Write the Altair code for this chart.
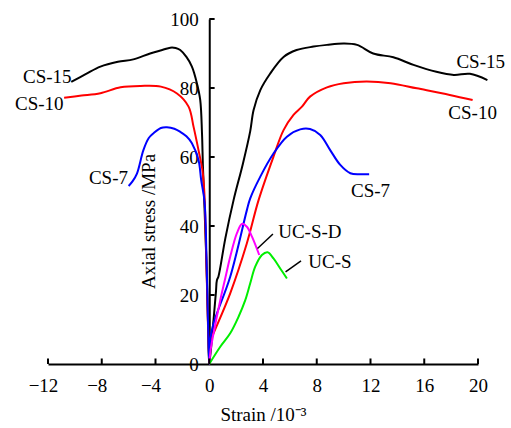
import altair as alt
import pandas as pd

# ---- data ----
x_ticks = [-12, -8, -4, 0, 4, 8, 12, 16, 20]
y_ticks = [0, 20, 40, 60, 80, 100]

cs15_strain = [-10.27, -9.2, -8.1, -6.8, -5.65, -4.4, -3.5, -2.9, -2.5, -2.16, -1.7, -1.29, -0.92, -0.67, -0.54, -0.47, -0.35, -0.2, -0.08, 0.0,
               0.3, 0.5, 0.57, 0.68, 1.2, 1.81, 2.5, 3.05, 3.3, 3.8, 4.5, 5.53, 6.5, 7.76, 8.76, 10.0, 11.0, 12.2, 13.7, 15.2, 16.9, 18.2, 19.4, 20.7]
cs15_stress = [81.8, 84.0, 86.2, 87.6, 88.3, 90.0, 91.0, 91.7, 91.6, 91.0, 89.0, 86.2, 81.4, 76.5, 66.9, 57.2, 45.0, 28.0, 10.0, 0.0,
               12.0, 21.0, 24.3, 25.3, 36.5, 47.5, 58.0, 67.5, 73.6, 79.4, 84.0, 89.0, 91.0, 92.0, 92.5, 92.9, 92.5, 90.0, 88.9, 86.7, 84.7, 83.8, 84.1, 82.3]

cs10_strain = [-10.8, -9.5, -8.1, -6.6, -5.1, -3.6, -2.4, -1.54, -1.17, -0.8, -0.5, -0.37, -0.25, -0.12, 0.0,
               0.02, 0.32, 1.56, 2.8, 3.67, 4.78, 5.53, 6.27, 6.9, 7.5, 8.76, 10.0, 11.7, 13.5, 15.45, 17.9, 19.6]
cs10_stress = [77.2, 77.8, 78.5, 80.2, 80.6, 80.4, 78.4, 74.6, 68.8, 62.0, 56.0, 50.0, 35.0, 15.0, 0.0,
               6.0, 8.9, 20.5, 35.0, 47.5, 60.1, 67.8, 72.2, 74.6, 77.5, 80.2, 81.4, 81.9, 81.4, 79.9, 78.0, 76.5]

cs7_strain = [-6.0, -5.7, -5.38, -4.9, -4.5, -4.14, -3.6, -3.15, -2.6, -2.16, -1.7, -1.29, -0.8, -0.6, -0.35, -0.2, -0.08, 0.0,
              0.07, 0.32, 1.56, 2.8, 3.05, 3.8, 4.78, 5.78, 6.77, 7.5, 8.26, 9.0, 9.75, 10.5, 11.2, 11.9]
cs7_stress = [51.6, 53.0, 55.2, 62.0, 65.5, 66.9, 68.4, 68.6, 68.2, 67.3, 66.0, 64.0, 59.1, 53.3, 47.0, 30.0, 10.0, 0.0,
              7.0, 11.8, 25.3, 44.6, 48.0, 54.3, 61.0, 65.9, 68.0, 68.1, 66.4, 62.0, 57.7, 55.3, 55.0, 55.0]

ucsd_strain = [0.0, 0.1, 0.32, 0.82, 1.2, 1.56, 2.06, 2.43, 2.8, 3.18, 3.72]
ucsd_stress = [0.0, 4.0, 8.9, 18.5, 25.0, 31.1, 37.9, 40.6, 39.8, 36.9, 31.6]

ucs_strain = [0.0, 0.82, 1.56, 2.18, 2.68, 3.05, 3.42, 3.92, 4.34, 4.78, 5.28, 5.78]
ucs_stress = [0.0, 5.0, 8.9, 13.7, 18.5, 23.4, 28.2, 31.6, 32.4, 30.6, 27.7, 24.8]

series_names = ["CS-15", "CS-10", "CS-7", "UC-S-D", "UC-S"]
series_colors = ["#000000", "#ff0000", "#0000ff", "#ff00ff", "#00ee00"]

label_text = ["CS-15", "CS-15", "CS-10", "CS-10", "CS-7", "CS-7"]
label_x = [-12.05, 20.2, -12.65, 19.6, -7.5, 12.0]
label_y = [83.2, 87.6, 75.4, 72.8, 53.9, 50.1]

side_text = ["UC-S-D", "UC-S"]
side_x = [5.13, 7.37]
side_y = [38.3, 29.7]

leader_x = [3.59, 5.68]
leader_y = [33.5, 26.7]
leader_x2 = [4.74, 6.83]
leader_y2 = [37.7, 29.9]

# ---- build tables ----
rows = []
for name, xs, ys in [("CS-15", cs15_strain, cs15_stress), ("CS-10", cs10_strain, cs10_stress),
                     ("CS-7", cs7_strain, cs7_stress), ("UC-S-D", ucsd_strain, ucsd_stress),
                     ("UC-S", ucs_strain, ucs_stress)]:
    for i, (a, b) in enumerate(zip(xs, ys)):
        rows.append({"series": name, "strain": a, "stress": b, "idx": i})
df = pd.DataFrame(rows)

FONT = "Liberation Serif"
FS = 19

xscale = alt.Scale(domain=[-12, 20], nice=False, zero=False)
yscale = alt.Scale(domain=[0, 100], nice=False, zero=False)

x_axis = alt.Axis(values=x_ticks, ticks=False, tickSize=0, grid=False, domainWidth=2, domainColor="black",
                  labelFont=FONT, labelFontSize=FS, labelColor="black", labelPadding=12,
                  labelFlush=False, labelOverlap=False,
                  labelOffset={"condition": {"test": "datum.value < 0", "value": -5}, "value": 0},
                  title="Strain /10⁻³", titleFont=FONT, titleFontSize=FS, titleFontWeight="normal",
                  titleColor="black", titleY=56, titleBaseline="alphabetic")
y_axis = alt.Axis(values=y_ticks, ticks=False, tickSize=0, grid=False, domainWidth=2, domainColor="black",
                  offset=-161.25, labelFont=FONT, labelFontSize=FS, labelColor="black", labelPadding=11,
                  labelFlush=False, labelOverlap=False,
                  title="Axial stress /MPa", titleFont=FONT, titleFontSize=FS, titleFontWeight="normal",
                  titleColor="black", titleX=-61, titleY=202, titleAngle=270, titleAlign="center",
                  titleBaseline="middle")

lines = alt.Chart(df).mark_line(strokeWidth=2, interpolate="catmull-rom").encode(
    x=alt.X("strain:Q", scale=xscale, axis=x_axis),
    y=alt.Y("stress:Q", scale=yscale, axis=y_axis),
    color=alt.Color("series:N", scale=alt.Scale(domain=series_names, range=series_colors), legend=None),
    order=alt.Order("idx:Q"),
)

xt = pd.DataFrame({"x": x_ticks, "y": 0.0, "y2": 1.6})
xtick_rules = alt.Chart(xt).mark_rule(color="black", strokeWidth=2).encode(
    x=alt.X("x:Q", scale=xscale), y=alt.Y("y:Q", scale=yscale), y2="y2:Q")

yt = pd.DataFrame({"y": y_ticks[1:], "x": 0.0, "x2": 0.4})
ytick_rules = alt.Chart(yt).mark_rule(color="black", strokeWidth=2).encode(
    x=alt.X("x:Q", scale=xscale), x2="x2:Q", y=alt.Y("y:Q", scale=yscale))

lab = pd.DataFrame({"t": label_text, "x": label_x, "y": label_y})
labels = alt.Chart(lab).mark_text(font=FONT, fontSize=FS, color="black", align="center", baseline="middle").encode(
    x=alt.X("x:Q", scale=xscale), y=alt.Y("y:Q", scale=yscale), text="t:N")

side = pd.DataFrame({"t": side_text, "x": side_x, "y": side_y})
side_labels = alt.Chart(side).mark_text(font=FONT, fontSize=FS, color="black", align="left", baseline="middle").encode(
    x=alt.X("x:Q", scale=xscale), y=alt.Y("y:Q", scale=yscale), text="t:N")

ld = pd.DataFrame({"x": leader_x, "y": leader_y, "x2": leader_x2, "y2": leader_y2})
leaders = alt.Chart(ld).mark_rule(color="black", strokeWidth=1.5).encode(
    x=alt.X("x:Q", scale=xscale), y=alt.Y("y:Q", scale=yscale), x2="x2:Q", y2="y2:Q")

chart = alt.layer(lines, xtick_rules, ytick_rules, leaders, labels, side_labels).properties(
    width=430, height=345,
    autosize=alt.AutoSizeParams(type="none"),
    padding={"left": 48, "top": 19, "right": 33, "bottom": 64},
    background="white",
).configure_view(stroke=None)

chart.save("out.html", embed_options={"renderer": "svg", "actions": False})
